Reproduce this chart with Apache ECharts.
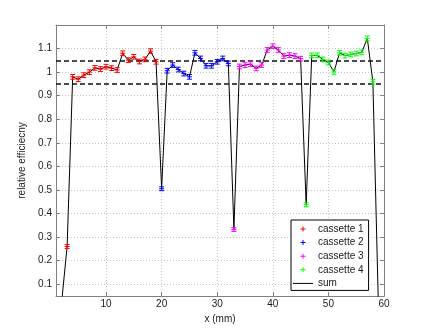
<!DOCTYPE html>
<html><head><meta charset="utf-8">
<script src="https://cdn.jsdelivr.net/npm/echarts@6/dist/echarts.min.js"></script>
<style>html,body{margin:0;padding:0;background:#fff}#c{width:425px;height:333px}</style>
</head><body><div id="c"></div>
<script>
// ---- data ----
const c1X = [3,4,5,6,7,8,9,10,11,12,13,14,15,16,17,18,19];
const c1Y = [0.26,0.98,0.97,0.987,1.0,1.018,1.013,1.023,1.017,1.009,1.08,1.051,1.065,1.045,1.054,1.089,1.044];
const c1E = [0.008,0.01,0.01,0.01,0.01,0.01,0.01,0.01,0.01,0.01,0.01,0.01,0.01,0.01,0.01,0.01,0.01];
const c2X = [20,21,22,23,24,25,26,27,28,29,30,31,32];
const c2Y = [0.505,1.006,1.03,1.011,0.994,0.98,1.082,1.058,1.027,1.027,1.044,1.058,1.037];
const c2E = [0.008,0.01,0.01,0.01,0.01,0.01,0.01,0.01,0.01,0.01,0.01,0.01,0.01];
const c3X = [33,34,35,36,37,38,39,40,41,42,43,44,45];
const c3Y = [0.332,1.024,1.03,1.034,1.016,1.03,1.094,1.11,1.094,1.068,1.072,1.068,1.057];
const c3E = [0.008,0.01,0.01,0.01,0.01,0.01,0.01,0.01,0.01,0.01,0.01,0.01,0.01];
const c4X = [46,47,48,49,50,51,52,53,54,55,56,57,58];
const c4Y = [0.437,1.071,1.071,1.054,1.041,1.001,1.082,1.07,1.075,1.079,1.084,1.143,0.959];
const c4E = [0.008,0.01,0.01,0.01,0.01,0.01,0.01,0.01,0.01,0.01,0.01,0.01,0.01];
const edgeX = [2,59];
const edgeY = [0.02,0.0];
const seriesNames = ['cassette 1','cassette 2','cassette 3','cassette 4'];
const sumName = 'sum';
const colors = ['#ff0000','#0000ff','#ff00ff','#00ff00'];
const xTicks = [10,20,30,40,50,60];
const yTicks = [0.1,0.2,0.3,0.4,0.5,0.6,0.7,0.8,0.9,1,1.1];
const refLines = [0.95,1.05];
const xName = 'x (mm)';
const yName = 'relative efficiecny';

// ---- build ----
const cas = [[c1X,c1Y,c1E],[c2X,c2Y,c2E],[c3X,c3Y,c3E],[c4X,c4Y,c4E]];
const sumX = [edgeX[0]].concat(c1X,c2X,c3X,c4X,[edgeX[1]]);
const sumY = [edgeY[0]].concat(c1Y,c2Y,c3Y,c4Y,[edgeY[1]]);
const sumData = sumX.map((x,i)=>[x,sumY[i]]);
const FONT = 'Liberation Sans, Arial, sans-serif';
const AX = '#808080';
const TXT = '#1a1a1a';
const plusIcon = 'path://M2,0h1v2h2v1h-2v2h-1v-2h-2v-1h2z';
const lineIcon = 'path://M0,0H20V1H0Z';

function errRender(color){
  return function(params, api){
    const x=api.value(0), y=api.value(1), e=api.value(2);
    const t=api.coord([x,y+e]), b=api.coord([x,y-e]), c=api.coord([x,y]);
    const w=2.5, st={stroke:color, lineWidth:1, fill:null};
    return {type:'group', children:[
      {type:'line', shape:{x1:t[0],y1:t[1],x2:b[0],y2:b[1]}, style:st},
      {type:'line', shape:{x1:t[0]-w,y1:t[1],x2:t[0]+w,y2:t[1]}, style:st},
      {type:'line', shape:{x1:b[0]-w,y1:b[1],x2:b[0]+w,y2:b[1]}, style:st},
      {type:'line', shape:{x1:c[0]-w,y1:c[1],x2:c[0]+w,y2:c[1]}, style:st}
    ]};
  };
}

const series = cas.map((d,k)=>({
  name: seriesNames[k], type:'custom', z:5,
  itemStyle:{color:colors[k]},
  encode:{x:0,y:1},
  clip:true,
  renderItem: errRender(colors[k]),
  data: d[0].map((x,i)=>[x,d[1][i],d[2][i]])
}));
series.unshift({
  name: sumName, type:'line', z:3, symbol:'none', showSymbol:false,
  lineStyle:{color:'#000', width:1}, itemStyle:{color:'#000'},
  data: sumData, clip:true, animation:false,
  markLine:{silent:true, symbol:['none','none'], label:{show:false},
    lineStyle:{color:'#111', type:[5,3], width:1.5},
    data: refLines.map(v=>({yAxis:v}))}
});

const chart = echarts.init(document.getElementById('c'), null, {renderer:'canvas'});
chart.setOption({
  animation:false,
  backgroundColor:'#fff',
  textStyle:{fontFamily:FONT},
  grid:{left:56, right:41, top:25, bottom:37},
  legend:{
    orient:'vertical', left:291, top:220,
    backgroundColor:'#fff', borderColor:'#000', borderWidth:1,
    padding:[3,5,1,2], itemGap:1.6, itemWidth:20, itemHeight:5,
    textStyle:{fontFamily:FONT, fontSize:10, color:TXT, lineHeight:12},
    data: seriesNames.map(n=>({name:n, icon:plusIcon})).concat([{name:sumName, icon:lineIcon}])
  },
  xAxis:[{
    type:'value', min:1, max:60, position:'bottom',
    name:xName, nameLocation:'middle', nameGap:14,
    nameTextStyle:{fontFamily:FONT, fontSize:10, color:TXT},
    axisLine:{show:true, lineStyle:{color:AX}},
    axisTick:{show:true, inside:true, length:4, customValues:xTicks, lineStyle:{color:AX}},
    axisLabel:{customValues:xTicks, fontFamily:FONT, fontSize:10, color:TXT, margin:3},
    splitLine:{show:true, lineStyle:{color:'#c4c4c4', type:[1,2]}}
  },{
    type:'value', min:1, max:60, position:'top',
    axisLine:{show:true, lineStyle:{color:AX}},
    axisTick:{show:true, inside:true, length:4, customValues:xTicks, lineStyle:{color:AX}},
    axisLabel:{show:false}, splitLine:{show:false}
  }],
  yAxis:[{
    type:'value', min:0.05, max:1.2, position:'left',
    name:yName, nameLocation:'middle', nameGap:20, nameRotate:90,
    nameTextStyle:{fontFamily:FONT, fontSize:10, color:TXT},
    axisLine:{show:true, lineStyle:{color:AX}},
    axisTick:{show:true, inside:true, length:4, customValues:yTicks, lineStyle:{color:AX}},
    axisLabel:{customValues:yTicks, fontFamily:FONT, fontSize:10, color:TXT, margin:4},
    splitLine:{show:true, lineStyle:{color:'#c4c4c4', type:[1,2]}}
  },{
    type:'value', min:0.05, max:1.2, position:'right',
    axisLine:{show:true, lineStyle:{color:AX}},
    axisTick:{show:true, inside:true, length:4, customValues:yTicks, lineStyle:{color:AX}},
    axisLabel:{show:false}, splitLine:{show:false}
  }],
  series: series
});
</script>
</body></html>
